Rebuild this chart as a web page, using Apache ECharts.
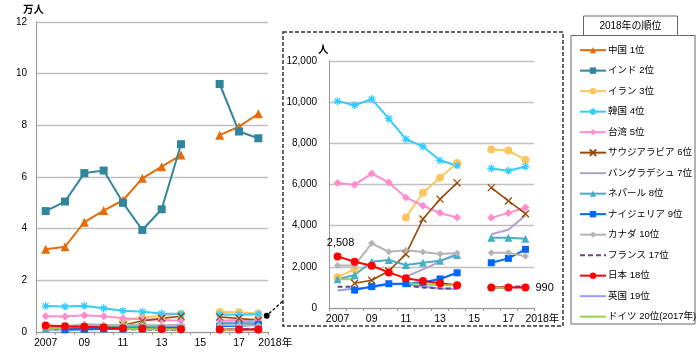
<!DOCTYPE html>
<html><head><meta charset="utf-8">
<script src="https://cdn.jsdelivr.net/npm/echarts@6/dist/echarts.min.js"></script>
<style>html,body{margin:0;padding:0;background:#fff}#c{width:700px;height:358px}</style>
</head><body><div id="c"></div>
<script>
// ---- data ----
const years = ['2007','2008','2009','2010','2011','2012','2013','2014','2015','2016','2017','2018'];
const yearLabels = ['2007','','09','','11','','13','','15','','17','2018年'];
const leftTicks = [0,2,4,6,8,10,12];      // 万人
const rightTicks = [0,2000,4000,6000,8000,10000,12000]; // 人
// 万人 (left chart only)
const china = [3.2, 3.3, 4.25, 4.7, 5.1, 5.95, 6.4, 6.85, null, 7.62, 7.95, 8.45];
const india = [4.68, 5.05, 6.15, 6.25, 5.0, 3.95, 4.75, 7.27, null, 9.6, 7.76, 7.5];
// 人
const iran = [1500, 1880, null, null, 4400, 5600, 6330, 7050, null, 7700, 7650, 7200];
const korea = [10050, 9850, 10150, 9200, 8200, 7850, 7170, 6920, null, 6780, 6670, 6870];
const taiwan = [6070, 5990, 6530, 6100, 5370, 4970, 4610, 4400, null, 4380, 4620, 4880];
const saudi = [null, 1200, 1350, 1800, 2620, 4320, 5290, 6080, null, 5850, 5200, 4580];
const bangladesh = [null, null, null, null, 1520, 1880, 2250, 2650, null, 3580, 3800, 4500];
const nepal = [1400, 1600, 2250, 2330, 2090, 2200, 2300, 2570, null, 3410, 3410, 3360];
const nigeria = [null, 870, 1040, 1180, 1180, 1250, 1410, 1710, null, 2200, 2410, 2850];
const canada = [2070, 2070, 3140, 2730, 2800, 2720, 2620, 2670, null, 2680, 2680, 2510];
const france = [1030, 1030, null, null, 1080, 1000, 950, 940, null, 1000, 1030, 1050];
const japan = [2508, 2250, 2050, 1730, 1440, 1310, 1200, 1100, null, 990, 1000, 990];
const uk = [850, 950, 1000, 1150, 1150, 1050, 950, 940, null, 1000, 1020, 1040];
const germany = [1400, 1400, null, null, 1220, 1150, 1100, 1100, null, 980, 980, null];

const names = ['中国 1位','インド 2位','イラン 3位','韓国 4位','台湾 5位','サウジアラビア 6位','バングラデシュ 7位','ネパール 8位','ナイジェリア 9位','カナダ 10位','フランス 17位','日本 18位','英国 19位','ドイツ 20位(2017年)'];
const noMarker = [names[6], names[10], names[12], names[13]];

const ASTER = 'path://M0,5L10,5M5,0L5,10M1.5,1.5L8.5,8.5M8.5,1.5L1.5,8.5';
const XMARK = 'path://M0,0L10,10M10,0L0,10';
const FONT = "'Liberation Sans', 'Noto Sans CJK JP', sans-serif";

const small = [
  {name: names[12], data: uk, color: '#9999ff', symbol: 'none', width: 2},
  {name: names[2], data: iran, color: '#fcc55e', symbol: 'circle', size: 8, width: 2},
  {name: names[3], data: korea, color: '#33ccff', symbol: ASTER, size: 8, width: 2, stroke: true},
  {name: names[4], data: taiwan, color: '#ff8ccf', symbol: 'diamond', size: 8, width: 2},
  {name: names[5], data: saudi, color: '#984807', symbol: XMARK, size: 7, width: 1.6, stroke: true},
  {name: names[6], data: bangladesh, color: '#b3a2c7', symbol: 'none', width: 2},
  {name: names[7], data: nepal, color: '#4bacc6', symbol: 'triangle', size: 8, width: 2},
  {name: names[8], data: nigeria, color: '#0066ff', symbol: 'rect', size: 7, width: 2},
  {name: names[9], data: canada, color: '#b4b4b4', symbol: 'diamond', size: 7, width: 2},
  {name: names[10], data: france, color: '#604a7b', symbol: 'none', width: 2, dash: true},
  {name: names[11], data: japan, color: '#ff0000', symbol: 'circle', size: 8, width: 2},
  {name: names[13], data: germany, color: '#92d050', symbol: 'none', width: 2}
];

function mk(s, axis, data) {
  return {
    type: 'line', name: s.name, xAxisIndex: axis, yAxisIndex: axis, data: data,
    symbol: s.symbol, symbolSize: s.size || 6, showSymbol: s.symbol !== 'none',
    connectNulls: false, silent: true,
    lineStyle: {color: s.color, width: s.width, type: s.dash ? [5, 3] : 'solid'},
    itemStyle: {color: s.color, borderColor: s.color, borderWidth: s.stroke ? 1.3 : 0, opacity: 1},
    emphasis: {disabled: true}
  };
}

const series = [];
series.push(mk({name: names[0], color: '#e46c0a', symbol: 'triangle', size: 9, width: 2}, 0, china));
series.push(mk({name: names[1], color: '#31859c', symbol: 'rect', size: 8, width: 2}, 0, india));
small.forEach(s => series.push(mk(s, 0, s.data.map(v => v == null ? null : v / 10000))));
small.forEach(s => {
  let d = s.data;
  if (s.data === japan) {
    d = japan.map((v, i) => {
      if (i === 0) return {value: v, label: {show: true, position: 'top', distance: 4, offset: [3, 0], formatter: p => p.value.toLocaleString('en-US')}};
      if (i === 11) return {value: v, label: {show: true, position: 'right', distance: 6, formatter: p => p.value.toLocaleString('en-US')}};
      return v;
    });
  }
  const o = mk(s, 1, d);
  o.label = {color: '#000', fontSize: 11, fontFamily: FONT};
  series.push(o);
});

function xAx(idx) {
  return {
    type: 'category', gridIndex: idx, data: years, boundaryGap: true,
    axisLine: {lineStyle: {color: '#999', width: 1}},
    axisTick: {show: true, length: 3, lineStyle: {color: '#999'}},
    axisLabel: {interval: 0, color: '#000', fontSize: 10.5, fontFamily: FONT, margin: 6,
      formatter: (v, i) => yearLabels[i], alignMaxLabel: 'left'},
    splitLine: {show: false}
  };
}
function yAx(idx, ticks, fmt, margin) {
  return {
    type: 'value', gridIndex: idx, min: ticks[0], max: ticks[ticks.length - 1], interval: ticks[1] - ticks[0],
    axisLine: {show: true, lineStyle: {color: '#999', width: 1}},
    axisTick: {show: false},
    axisLabel: {color: '#000', fontSize: 10, fontFamily: FONT, margin: margin, formatter: fmt},
    splitLine: {show: true, lineStyle: {color: '#c0c0c0', width: 1.3}}
  };
}

const legendData = names.map(n => noMarker.indexOf(n) >= 0 ? {name: n, itemStyle: {opacity: 0}} : {name: n});

const chart = echarts.init(document.getElementById('c'), null, {renderer: 'canvas'});
chart.setOption({
  animation: false,
  textStyle: {fontFamily: FONT},
  grid: [
    {left: 36, top: 22, width: 232, height: 310, containLabel: false},
    {left: 329, top: 61, width: 205, height: 247, containLabel: false}
  ],
  xAxis: [xAx(0), xAx(1)],
  yAxis: [
    yAx(0, leftTicks, v => String(v), 9),
    yAx(1, rightTicks, v => v.toLocaleString('en-US'), 12)
  ],
  legend: {
    data: legendData, orient: 'vertical', left: 574, top: 39,
    itemWidth: 26, itemHeight: 8, itemGap: 8.2,
    selectedMode: false,
    textStyle: {color: '#000', fontSize: 9.5, fontFamily: FONT, padding: [0, 0, 0, -3], lineHeight: 12.3}
  },
  graphic: [
    {type: 'rect', shape: {x: 283, y: 32, width: 280, height: 294}, style: {fill: 'none', stroke: '#333', lineWidth: 1.5, lineDash: [4, 2]}, z: 0, silent: true},
    {type: 'rect', shape: {x: 571, y: 35.5, width: 124, height: 288.5}, style: {fill: 'none', stroke: '#666', lineWidth: 1}, z: 0, silent: true},
    {type: 'rect', shape: {x: 583.5, y: 16, width: 94, height: 19.5}, style: {fill: '#fff', stroke: '#666', lineWidth: 1}, z: 1, silent: true},
    {type: 'text', x: 630.5, y: 26, style: {text: '2018年の順位', fontSize: 10, fontFamily: FONT, fill: '#000', align: 'center', verticalAlign: 'middle'}, z: 2, silent: true},
    {type: 'text', x: 23, y: 10, style: {text: '万人', fontSize: 10.5, fontWeight: 'bold', fontFamily: FONT, fill: '#000', align: 'left', verticalAlign: 'middle'}, silent: true},
    {type: 'text', x: 318, y: 50, style: {text: '人', fontSize: 10.5, fontWeight: 'bold', fontFamily: FONT, fill: '#000', align: 'left', verticalAlign: 'middle'}, silent: true},
    {type: 'line', shape: {x1: 269, y1: 313.5, x2: 283, y2: 301}, style: {stroke: '#000', lineWidth: 1.3, lineDash: [3, 2]}, silent: true},
    {type: 'circle', shape: {cx: 266.7, cy: 315.7, r: 3}, style: {fill: '#000'}, silent: true}
  ],
  series: series
});
</script></body></html>
